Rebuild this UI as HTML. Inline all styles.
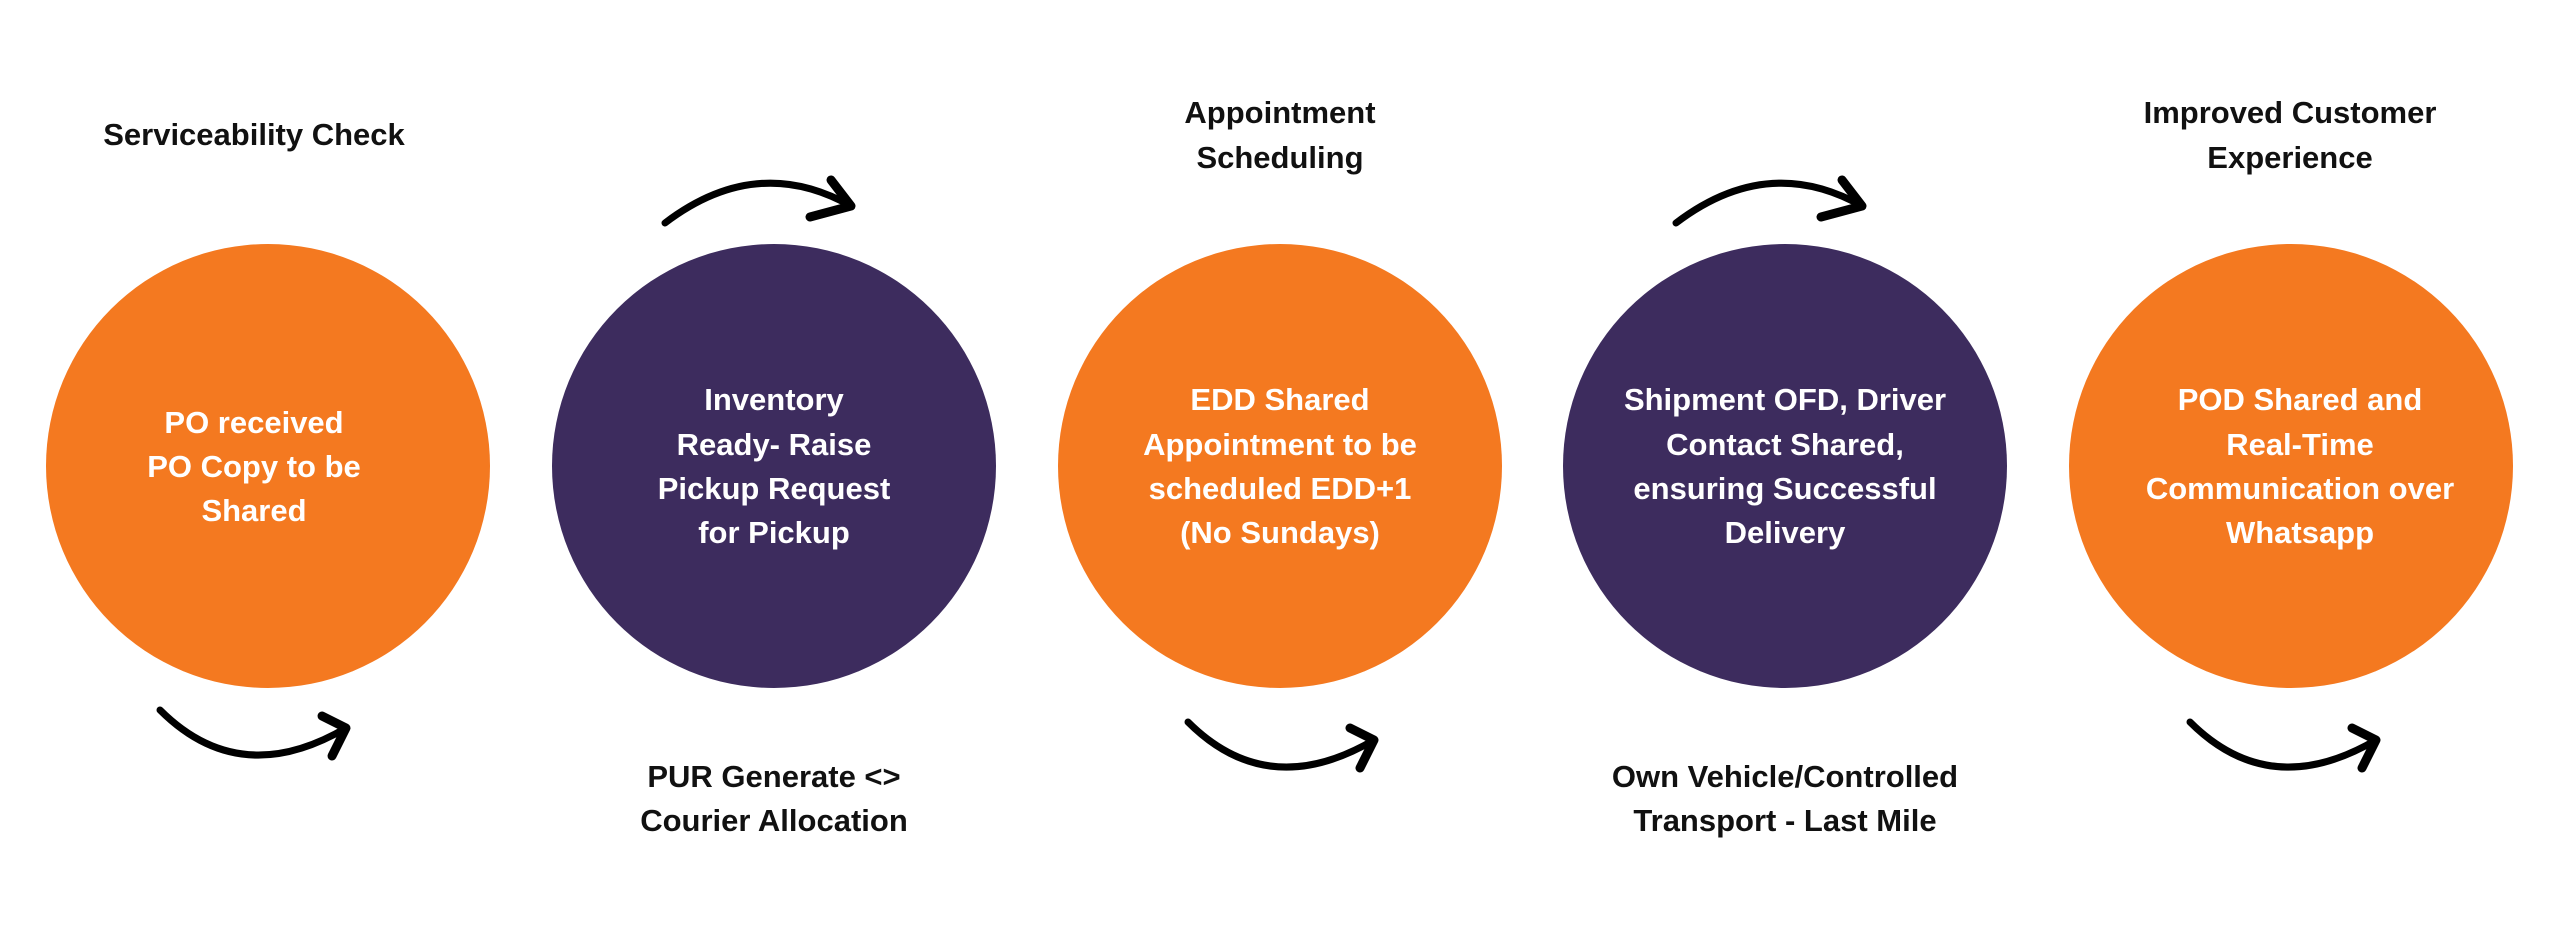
<!DOCTYPE html>
<html><head><meta charset="utf-8"><style>
html,body{margin:0;padding:0;background:#fff;}
svg{display:block;}
text{font-family:"Liberation Sans",sans-serif;font-weight:bold;text-anchor:middle;}
.w{fill:#fff;font-size:31px;}
.b{fill:#111;font-size:31px;}
.a{fill:none;stroke:#000;stroke-width:7;stroke-linecap:round;stroke-linejoin:round;}
.h{fill:none;stroke:#000;stroke-width:9;stroke-linecap:round;stroke-linejoin:round;}
</style></head><body>
<svg width="2560" height="933" viewBox="0 0 2560 933" xmlns="http://www.w3.org/2000/svg">
<defs>
<g id="top"><path class="a" d="M0,48 Q92,-22 186,31"/><path class="h" d="M166,5 L186,31 L145,42"/></g>
<g id="bot"><path class="a" d="M0,0 Q80,80 186,18"/><path class="h" d="M162,6 L186,18 L172,46"/></g>
</defs>
<circle cx="268" cy="466" r="222" fill="#F47920"/>
<circle cx="774" cy="466" r="222" fill="#3D2C5E"/>
<circle cx="1280" cy="466" r="222" fill="#F47920"/>
<circle cx="1785" cy="466" r="222" fill="#3D2C5E"/>
<circle cx="2291" cy="466" r="222" fill="#F47920"/>

<text class="w" x="254" y="433">PO received</text>
<text class="w" x="254" y="477">PO Copy to be</text>
<text class="w" x="254" y="521">Shared</text>

<text class="w" x="774" y="410">Inventory</text>
<text class="w" x="774" y="455">Ready- Raise</text>
<text class="w" x="774" y="499">Pickup Request</text>
<text class="w" x="774" y="543">for Pickup</text>

<text class="w" x="1280" y="410">EDD Shared</text>
<text class="w" x="1280" y="455">Appointment to be</text>
<text class="w" x="1280" y="499">scheduled EDD+1</text>
<text class="w" x="1280" y="543">(No Sundays)</text>

<text class="w" x="1785" y="410">Shipment OFD, Driver</text>
<text class="w" x="1785" y="455">Contact Shared,</text>
<text class="w" x="1785" y="499">ensuring Successful</text>
<text class="w" x="1785" y="543">Delivery</text>

<text class="w" x="2300" y="410">POD Shared and</text>
<text class="w" x="2300" y="455">Real-Time</text>
<text class="w" x="2300" y="499">Communication over</text>
<text class="w" x="2300" y="543">Whatsapp</text>

<text class="b" x="254" y="145">Serviceability Check</text>
<text class="b" x="1280" y="123">Appointment</text>
<text class="b" x="1280" y="168">Scheduling</text>
<text class="b" x="2290" y="123">Improved Customer</text>
<text class="b" x="2290" y="168">Experience</text>
<text class="b" x="774" y="787">PUR Generate &lt;&gt;</text>
<text class="b" x="774" y="831">Courier Allocation</text>
<text class="b" x="1785" y="787">Own Vehicle/Controlled</text>
<text class="b" x="1785" y="831">Transport - Last Mile</text>

<use href="#top" x="665" y="175"/>
<use href="#top" x="1676" y="175"/>
<use href="#bot" x="160" y="710"/>
<use href="#bot" x="1188" y="722"/>
<use href="#bot" x="2190" y="722"/>
</svg>
</body></html>
